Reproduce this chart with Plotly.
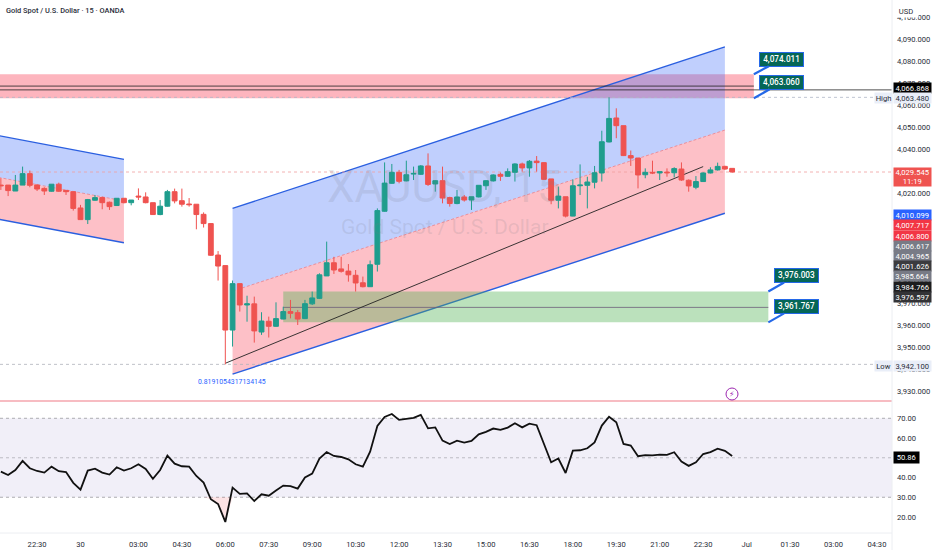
import plotly.graph_objects as go

# Bar numbers count from the 06:00 candle (the session low)
FIRST_BAR = -31

OPENS = [
    4023.6, 4023.6, 4020.9, 4023.6, 4028.8, 4023.6, 4022.1, 4020.8, 4024.0, 4021.2, 4020.6,
    4013.2, 4007.9, 4016.7, 4017.9, 4015.8, 4014.3, 4017.6, 4015.6, 4018.6, 4018.2, 4015.6,
    4010.2, 4014.0, 4020.6, 4016.5, 4015.0, 4014.9, 4010.3, 4006.1, 3991.8,
    3987.0, 3957.7, 3978.8, 3969.1, 3969.6, 3956.8, 3961.7, 3959.4, 3962.7, 3966.1, 3965.6,
    3962.9, 3969.6, 3972.1, 3982.3, 3988.3, 3985.5, 3984.5, 3982.6, 3979.2, 3977.4, 3987.6,
    4011.7, 4024.4, 4029.4, 4025.5, 4028.6, 4028.5, 4032.3, 4024.1, 4025.6,
    4017.9, 4015.2, 4018.2, 4016.8, 4018.2, 4023.3, 4025.5, 4028.5, 4027.6, 4029.4, 4033.2,
    4031.4, 4034.5, 4033.8, 4026.4, 4016.7, 4018.3, 4009.5, 4023.3, 4023.5, 4024.9, 4029.1,
    4043.2, 4054.1, 4050.6, 4037.0, 4035.9, 4028.3, 4029.4, 4029.1, 4029.5, 4029.2, 4030.9,
    4025.8, 4022.6, 4025.2, 4029.1, 4030.5, 4032.1, 4031.2,
]
HIGHS = [
    4026.7, 4023.6, 4028.2, 4032.0, 4030.2, 4024.1, 4022.6, 4024.0, 4024.7, 4021.2, 4020.6,
    4014.6, 4017.3, 4019.1, 4018.3, 4016.1, 4017.6, 4017.6, 4016.8, 4022.1, 4020.3, 4015.6,
    4016.8, 4021.4, 4022.0, 4022.0, 4017.7, 4014.9, 4011.2, 4006.2, 3993.6,
    3987.0, 3980.2, 3978.8, 3973.3, 3972.9, 3965.8, 3963.8, 3970.3, 3968.3, 3971.4, 3966.8,
    3971.4, 3975.2, 3983.5, 3997.9, 3991.0, 3991.0, 3987.7, 3985.0, 3982.0, 3989.3, 4013.0,
    4033.9, 4033.2, 4030.5, 4034.7, 4032.0, 4032.7, 4038.0, 4025.9, 4032.0,
    4018.3, 4021.4, 4019.1, 4018.3, 4023.5, 4025.9, 4028.5, 4029.3, 4031.2, 4033.5, 4033.8,
    4035.0, 4036.8, 4034.0, 4026.4, 4022.9, 4018.3, 4026.2, 4033.0, 4027.4, 4032.3, 4048.3,
    4063.5, 4058.5, 4050.6, 4039.3, 4035.9, 4031.2, 4034.7, 4029.7, 4031.2, 4031.7, 4033.9,
    4026.2, 4027.7, 4029.4, 4031.7, 4033.8, 4032.4, 4031.2,
]
LOWS = [
    4021.4, 4018.6, 4020.9, 4023.6, 4022.6, 4020.9, 4019.1, 4020.6, 4020.5, 4019.1, 4012.0,
    4007.9, 4005.9, 4016.4, 4012.6, 4012.3, 4014.1, 4015.3, 4014.4, 4016.8, 4015.3, 4010.0,
    4009.9, 4013.8, 4015.3, 4013.8, 4013.8, 4003.5, 4004.3, 3991.4, 3980.2,
    3942.1, 3950.2, 3966.1, 3961.5, 3952.0, 3955.5, 3954.3, 3959.2, 3962.6, 3963.0, 3960.0,
    3962.7, 3969.1, 3971.8, 3982.3, 3983.2, 3983.8, 3979.7, 3975.2, 3977.1, 3977.3, 3984.3,
    4011.5, 4024.2, 4024.4, 4025.3, 4025.9, 4028.2, 4023.2, 4020.6, 4015.3,
    4013.8, 4014.9, 4016.1, 4012.3, 4018.0, 4021.4, 4025.2, 4025.5, 4027.3, 4025.2, 4029.7,
    4027.4, 4029.7, 4025.9, 4014.9, 4013.0, 4008.9, 4009.4, 4019.1, 4013.0, 4022.1, 4025.2,
    4043.0, 4044.9, 4036.8, 4032.3, 4022.1, 4026.7, 4028.6, 4025.9, 4027.4, 4027.1, 4025.5,
    4020.6, 4021.7, 4025.0, 4028.9, 4030.2, 4030.5, 4029.3,
]
CLOSES = [
    4023.3, 4021.1, 4023.6, 4028.8, 4023.5, 4021.8, 4020.9, 4024.0, 4020.8, 4020.6, 4013.0,
    4007.9, 4017.0, 4017.9, 4015.6, 4013.8, 4017.6, 4015.6, 4016.8, 4018.2, 4015.6, 4010.2,
    4014.0, 4020.6, 4016.4, 4014.9, 4014.7, 4010.2, 4006.1, 3991.7, 3986.8,
    3957.7, 3978.8, 3969.1, 3969.6, 3957.3, 3961.8, 3959.4, 3962.9, 3966.1, 3965.3, 3962.7,
    3969.7, 3972.3, 3982.8, 3988.3, 3985.0, 3984.4, 3982.8, 3979.1, 3977.4, 3987.4, 4012.0,
    4024.5, 4029.4, 4025.3, 4028.3, 4028.9, 4032.3, 4023.9, 4025.6, 4017.7,
    4015.2, 4018.2, 4016.8, 4018.3, 4023.5, 4025.6, 4028.2, 4027.6, 4029.7, 4033.2, 4031.4,
    4034.4, 4033.8, 4026.2, 4016.7, 4018.6, 4009.5, 4023.3, 4023.6, 4025.0, 4029.2, 4043.3,
    4053.9, 4050.6, 4037.0, 4035.9, 4028.2, 4029.4, 4029.1, 4029.7, 4029.2, 4031.1, 4025.9,
    4023.2, 4025.2, 4029.1, 4030.5, 4032.1, 4030.9, 4029.545,
]
RSI = [
    43.0, 41.3, 43.8, 48.4, 44.7, 43.3, 42.5, 45.5, 43.2, 42.8, 37.3, 33.9, 43.5, 44.5, 42.5, 41.5,
    45.2, 43.5, 44.7, 46.7, 44.3, 39.3, 43.8, 51.1, 47.0, 45.7, 45.5, 40.8, 37.4, 29.0, 26.6,
    17.5, 34.9, 31.7, 32.0, 28.1, 31.5, 30.8, 33.4, 35.9, 35.6, 34.4, 40.0, 42.0, 49.6, 52.9, 50.9,
    50.4, 49.2, 46.7, 45.5, 53.1, 66.1, 70.7, 72.2, 69.2, 69.7, 70.2, 71.7, 64.9, 65.4, 58.7, 57.0,
    58.7, 57.7, 58.5, 61.9, 63.1, 64.8, 64.1, 65.3, 67.5, 65.4, 67.3, 66.5, 57.3, 47.7, 49.6, 42.3,
    53.6, 53.8, 54.8, 57.8, 66.3, 70.8, 68.0, 57.0, 56.2, 50.8, 51.3, 51.2, 51.6, 51.5, 52.8, 48.1,
    45.9, 47.7, 51.9, 52.9, 54.6, 53.5, 50.86,
]

BAR_TICKS = [-26, -20, -12, -6, 0, 6, 12, 18, 24, 30, 36, 42, 48, 54, 60, 66, 72, 78, 84, 90]
BAR_LABELS = ["22:30", "30", "03:00", "04:30", "06:00", "07:30", "09:00", "10:30", "12:00", "13:30",
              "15:00", "16:30", "18:00", "19:30", "21:00", "22:30", "Jul", "01:30", "03:00", "04:30"]
PRICE_TICKS = list(range(3930, 4101, 10))
RSI_TICKS = [20, 30, 40, 50, 60, 70]

# (start bar, top, middle, bottom) then the same at the end bar
OLD_CHANNEL = ((-32, 4046.5, 4027.5, 4008.5), (-14, 4035.3, 4016.4, 3997.4))
NEW_CHANNEL = ((1, 4013.0, 3975.4, 3937.7), (69, 4086.4, 4048.6, 4010.8))
TREND_LINE = ((0, 3942.6), (66, 4032.0))

RES_ZONE = (4074.011, 4063.060)
SUP_ZONE = (3975.2, 3961.2)
RES_END = 73
SUP_START, SUP_END = 8, 75

LAST_PRICE = 4029.545
SESSION_HIGH = 4063.48
SESSION_LOW = 3942.1

GREEN = "#1f9d8d"
RED = "#ef5350"
BLUE = "#2962ff"
TEXT = "#2a2e39"
FONT = "Roboto"
SMALL = 7.6

W, H = 932, 550
PLOT_R = 892


def px(x):
    return x / W


def py(y):
    return 1 - y / H


def poly(points):
    return "M " + " L ".join(f"{x},{y}" for x, y in points) + " Z"


def add_channel(shapes, chan):
    (x0, top0, mid0, bot0), (x1, top1, mid1, bot1) = chan
    shapes.append(dict(type="path", path=poly([(x0, top0), (x1, top1), (x1, mid1), (x0, mid0)]),
                       fillcolor="rgba(60,105,250,0.32)", line_width=0, layer="below"))
    shapes.append(dict(type="path", path=poly([(x0, mid0), (x1, mid1), (x1, bot1), (x0, bot0)]),
                       fillcolor="rgba(248,70,90,0.34)", line_width=0, layer="below"))
    for a, b in [(top0, top1), (bot0, bot1)]:
        shapes.append(dict(type="line", x0=x0, x1=x1, y0=a, y1=b, layer="below",
                           line=dict(color="#2a5fe0", width=1.4)))
    shapes.append(dict(type="line", x0=x0, x1=x1, y0=mid0, y1=mid1, layer="below",
                       line=dict(color="#e8808c", width=0.8, dash="3px,2px")))


def hline(y, x0, x1, color, width=1, dash="solid", yref="y"):
    return dict(type="line", x0=x0, x1=x1, y0=y, y1=y, yref=yref, xref="x", layer="below",
                line=dict(color=color, width=width, dash=dash))


bars = list(range(FIRST_BAR, FIRST_BAR + len(CLOSES)))
x_left, x_right = -31.12, 92.08

fig = go.Figure()
fig.add_trace(go.Candlestick(
    x=bars, open=OPENS, high=HIGHS, low=LOWS, close=CLOSES,
    increasing=dict(line=dict(color=GREEN, width=1), fillcolor=GREEN),
    decreasing=dict(line=dict(color=RED, width=1), fillcolor=RED),
    showlegend=False, hoverinfo="skip",
))

# pink shading where RSI dips under 30
dip = [(b, min(v, 30)) for b, v in zip(bars, RSI) if -3 <= b <= 1]
fig.add_trace(go.Scatter(
    x=[d[0] for d in dip] + [d[0] for d in dip][::-1],
    y=[d[1] for d in dip] + [30] * len(dip),
    fill="toself", fillcolor="rgba(242,54,69,0.14)", mode="none",
    xaxis="x", yaxis="y2", showlegend=False, hoverinfo="skip",
))
fig.add_trace(go.Scatter(
    x=bars, y=RSI, mode="lines", line=dict(color="#111111", width=1.8),
    xaxis="x", yaxis="y2", showlegend=False, hoverinfo="skip",
))

shapes = [
    dict(type="rect", x0=x_left, x1=RES_END, y0=RES_ZONE[1], y1=RES_ZONE[0],
         fillcolor="rgba(250,90,110,0.45)", line_width=0, layer="below"),
]
add_channel(shapes, OLD_CHANNEL)
add_channel(shapes, NEW_CHANNEL)
shapes += [
    dict(type="rect", x0=SUP_START, x1=SUP_END, y0=SUP_ZONE[1], y1=SUP_ZONE[0],
         fillcolor="rgba(76,175,80,0.38)", line_width=0, layer="below"),
    hline(3968.0, SUP_START, SUP_END, "#6d5d78", width=0.8),
    hline(4068.6, x_left, RES_END, "#222222", width=0.8),
    hline(4066.868, x_left, x_right, "#222222", width=0.8),
    hline(SESSION_HIGH, x_left, x_right, "#b0b8c8", width=0.8, dash="dot"),
    hline(SESSION_LOW, x_left, x_right, "#b0b3bb", width=0.8, dash="dot"),
    hline(LAST_PRICE, x_left, x_right, "#f0a0a0", width=0.8, dash="dot"),
    dict(type="line", x0=TREND_LINE[0][0], x1=TREND_LINE[1][0], y0=TREND_LINE[0][1], y1=TREND_LINE[1][1],
         layer="below", line=dict(color="#222222", width=0.9)),
    # RSI band and levels
    dict(type="rect", x0=x_left, x1=x_right, y0=30, y1=70, yref="y2",
         fillcolor="#f1eff8", line_width=0, layer="below"),
    hline(70, x_left, x_right, "#9a9aa0", width=0.8, dash="3px,3px", yref="y2"),
    hline(50, x_left, x_right, "#b0b0b6", width=0.8, dash="3px,3px", yref="y2"),
    hline(30, x_left, x_right, "#9a9aa0", width=0.8, dash="3px,3px", yref="y2"),
    # pane separator
    dict(type="line", xref="paper", yref="paper", x0=0, x1=px(PLOT_R), y0=py(401), y1=py(401),
         line=dict(color="#f4a6ae", width=1.5)),
    dict(type="line", xref="paper", yref="paper", x0=0, x1=px(PLOT_R), y0=py(533), y1=py(533),
         line=dict(color="#eceef2", width=1)),
    dict(type="line", xref="paper", yref="paper", x0=px(PLOT_R), x1=px(PLOT_R), y0=0, y1=1,
         line=dict(color="#eceef2", width=1)),
    # events marker
    dict(type="circle", xref="paper", yref="paper", x0=px(726), x1=px(738), y0=py(388), y1=py(400),
         line=dict(color="#9c27b0", width=1), fillcolor="white"),
]

annotations = []


def tag(text, y0, y1, bg, fg="white", x0=PLOT_R + 0.5, x1=929):
    annotations.append(dict(
        text=text, xref="paper", yref="paper", x=px(x0), y=py((y0 + y1) / 2),
        xanchor="left", yanchor="middle", showarrow=False, width=x1 - x0, height=y1 - y0,
        bgcolor=bg, borderpad=0, align="center", font=dict(family=FONT, size=SMALL, color=fg),
    ))


def callout(text, bar, price, ay):
    annotations.append(dict(
        text=text, x=bar, y=price, xref="x", yref="y", ax=28, ay=ay, showarrow=True,
        arrowhead=0, arrowwidth=2.2, arrowcolor="#2468e8", bgcolor="#056656", bordercolor="#2468e8",
        borderwidth=1, borderpad=1, width=41, height=10.5,
        font=dict(family=FONT, size=8.2, color="white", weight=500),
    ))


callout("4,074.011", RES_END, RES_ZONE[0], -15)
callout("4,063.060", RES_END, RES_ZONE[1], -16)
callout("3,976.003", SUP_END, SUP_ZONE[0], -16)
callout("3,961.767", SUP_END, SUP_ZONE[1], -16)

tag("USD", 5, 17, "white", TEXT, x0=893, x1=917)
tag("4,066.868", 83, 93, "#000000")
tag("4,063.480", 93, 103, "#e9eef8", TEXT)
tag("High", 93, 103, "#e9eef8", TEXT, x0=874, x1=891)
tag("4,029.545<br>11:19", 168, 186, RED)
stack = [
    ("4,010.099", BLUE), ("4,007.717", "#f23645"), ("4,006.800", "#f23645"), ("4,006.617", "#787b86"),
    ("4,004.965", "#787b86"), ("4,001.626", "#3b3b3e"), ("3,985.664", "#787b86"), ("3,984.766", "#1c1c1e"),
    ("3,976.597", "#333336"),
]
for n, (label, colour) in enumerate(stack):
    tag(label, 210 + n * 10.2, 220.2 + n * 10.2, colour)
tag("3,942.100", 360.5, 370.5, "#e9eef8", TEXT)
tag("Low", 360.5, 370.5, "#e9eef8", TEXT, x0=874, x1=891)
tag("50.86", 452.5, 463, "#000000", x1=917)

annotations += [
    dict(text="Gold Spot / U.S. Dollar · 15 · OANDA", xref="paper", yref="paper", x=px(4), y=py(10),
         xanchor="left", yanchor="middle", showarrow=False,
         font=dict(family=FONT, size=7.4, color=TEXT, weight=500)),
    dict(text="XAUUSD, 15", xref="paper", yref="paper", x=px(444), y=py(187),
         xanchor="center", yanchor="middle", showarrow=False,
         font=dict(family=FONT, size=44, color="rgba(120,123,134,0.17)")),
    dict(text="Gold Spot / U.S. Dollar", xref="paper", yref="paper", x=px(445), y=py(227),
         xanchor="center", yanchor="middle", showarrow=False,
         font=dict(family=FONT, size=21, color="rgba(120,123,134,0.17)")),
    dict(text="0.8191054317134145", xref="paper", yref="paper", x=px(232), y=py(382),
         xanchor="center", yanchor="middle", showarrow=False, font=dict(family=FONT, size=6.9, color=BLUE)),
    dict(text="⚡", xref="paper", yref="paper", x=px(732), y=py(394),
         xanchor="center", yanchor="middle", showarrow=False,
         font=dict(family="DejaVu Sans", size=8, color="#9c27b0")),
]

fig.update_layout(
    width=W, height=H, margin=dict(l=0, r=0, t=0, b=0), autosize=False,
    paper_bgcolor="white", plot_bgcolor="white",
    font=dict(family=FONT, size=SMALL, color=TEXT),
    xaxis=dict(domain=[0, px(PLOT_R)], range=[x_left, x_right], anchor="y2", tickmode="array",
               tickvals=BAR_TICKS, ticktext=BAR_LABELS, showgrid=False, zeroline=False,
               showline=False, ticks="", rangeslider=dict(visible=False), ticklabelstandoff=5,
               tickfont=dict(size=SMALL, color=TEXT)),
    yaxis=dict(domain=[py(401), 1], range=[3925.45, 4107.73], side="right", anchor="x", tickmode="array",
               tickvals=PRICE_TICKS, tickformat=",.3f", showgrid=False, zeroline=False,
               ticks="", ticklabelstandoff=4, tickfont=dict(size=SMALL, color=TEXT)),
    yaxis2=dict(domain=[py(533), py(402)], range=[11.9, 78.25], side="right", anchor="x", tickmode="array",
                tickvals=RSI_TICKS, tickformat=".2f", showgrid=False, zeroline=False,
                ticks="", ticklabelstandoff=4, tickfont=dict(size=SMALL, color=TEXT)),
    shapes=shapes, annotations=annotations, showlegend=False, boxgap=0.05,
)

fig.write_html("out.html", config={"displayModeBar": False},
               post_script="document.body.style.margin='0';")
